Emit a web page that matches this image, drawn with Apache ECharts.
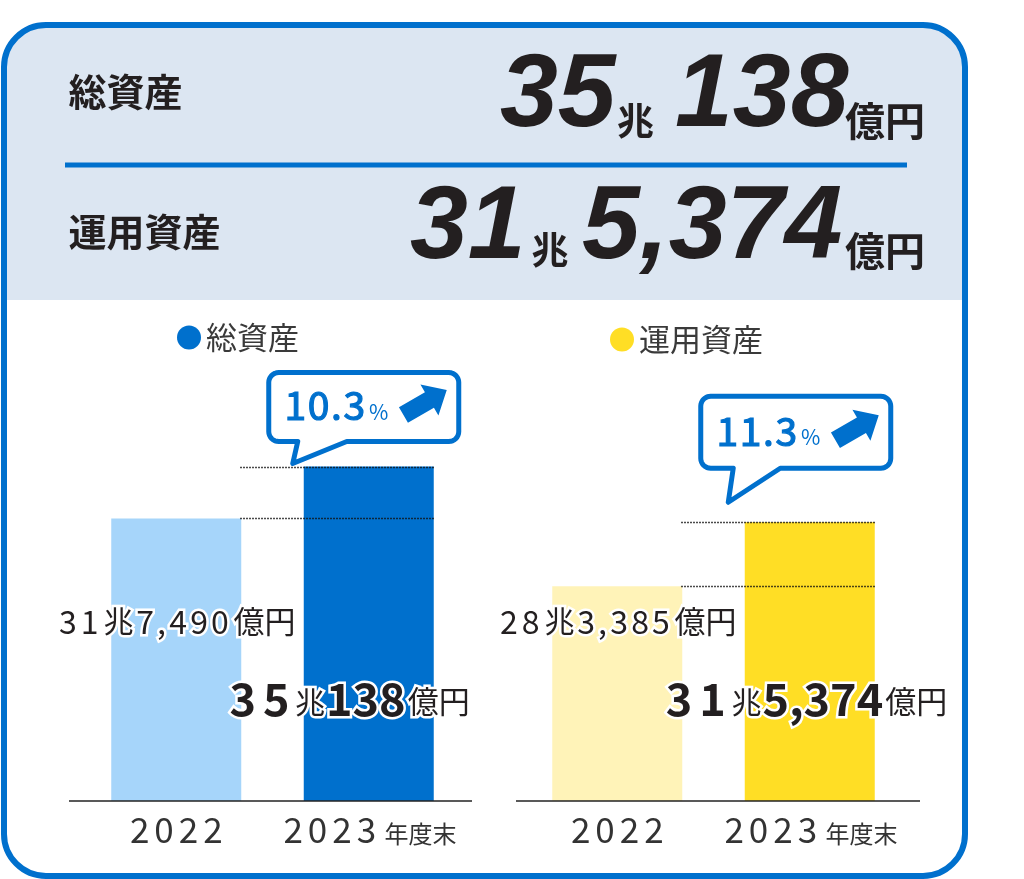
<!DOCTYPE html>
<html><head><meta charset="utf-8">
<script src="https://cdn.jsdelivr.net/npm/echarts@6/dist/echarts.min.js"></script>
<style>html,body{margin:0;padding:0;background:#fff}#c{width:1024px;height:879px}</style>
</head><body><div id="c"></div>
<script>
// ---------- data ----------
const years = ['2022', '2023'];
const yearSuffix = ['', '年度末'];
const totalAssets = [317490, 350138];      // 億円
const operatingAssets = [283385, 315374];  // 億円
const growthRates = [10.3, 11.3];          // %
const seriesNames = ['総資産', '運用資産'];
const headerLabels = ['総資産', '運用資産'];

// ---------- style ----------
const FF = '"Noto Sans CJK JP","Noto Sans",sans-serif';
const NUM_FF = '"Liberation Sans",Arial,sans-serif';
const C = {
  border: '#0070CD', header: '#DCE6F2', ink: '#231F20', text: '#3A3A3A',
  total: ['#A6D5FA', '#0070CD'], operating: ['#FFF3B8', '#FFDE25']
};

function splitOku(v) {
  return { cho: String(Math.floor(v / 10000)), oku: (v % 10000).toLocaleString('en-US') };
}
function valueLabel(v, big) {
  const p = splitOku(v);
  const k = big ? ['T', 'U', 'N', 'Y'] : ['t', 'u', 'n', 'y'];
  const okuPart = big ? `{${k[2]}|${p.oku}}` : p.oku.split('').map(d => `{${k[2]}|${d}}`).join('');
  return p.cho.split('').map(d => `{${k[0]}|${d}}`).join('') +
    `{${k[1]}|兆}` + okuPart + `{${k[3]}|億円}`;
}
const base = { fontFamily: FF, color: C.ink, textBorderColor: '#fff', textBorderWidth: 5, verticalAlign: 'bottom' };
const RICH = {
  t: Object.assign({}, base, { fontSize: 32, lineHeight: 36, padding: [0, 2, 0, 2] }),
  u: Object.assign({}, base, { fontSize: 30, lineHeight: 36, padding: [0, 1, 2, 3] }),
  n: Object.assign({}, base, { fontSize: 32, lineHeight: 36, padding: [0, 1.6, 0, 1.6] }),
  y: Object.assign({}, base, { fontSize: 31, lineHeight: 36, padding: [0, 0, 1, 3] }),
  T: Object.assign({}, base, { fontSize: 45, lineHeight: 46, fontWeight: 'bold', padding: [0, 3.5, 0, 3.5] }),
  U: Object.assign({}, base, { fontSize: 30, lineHeight: 46, padding: [0, 1, 4, 2] }),
  N: Object.assign({}, base, { fontSize: 45, lineHeight: 46, fontWeight: 'bold' }),
  Y: Object.assign({}, base, { fontSize: 31, lineHeight: 46, padding: [0, 0, 4, 2] })
};
const LABEL_DIST = [163, 80];
const charts = [
  { name: seriesNames[0], values: totalAssets, colors: C.total, min: 140000, max: 380000,
    grid: { left: 80, width: 385, top: 419, bottom: 78 }, bigOffset: -21, axisExt: [-11, 7],
    legend: { left: 172, top: 317 },
    bubble: { dx0: -100, dx1: 90, dy0: -94, dy1: -25, tailL: -71, tailR: -22, tipDx: -76, tipDy: -3 } },
  { name: seriesNames[1], values: operatingAssets, colors: C.operating, min: 176000, max: 336000,
    grid: { left: 521, width: 385, top: 481, bottom: 78 }, bigOffset: -5, axisExt: [-5, 14],
    legend: { left: 605, top: 319 },
    bubble: { dx0: -109, dx1: 81, dy0: -126, dy1: -54, tailL: -76.5, tailR: -29.5, tipDx: -81.5, tipDy: -20 } }
];

const option = {
  backgroundColor: '#fff',
  animation: false,
  legend: charts.map(c => ({
    data: [c.name], left: c.legend.left, top: c.legend.top, icon: 'circle', itemWidth: 24, itemHeight: 24,
    selectedMode: false, textStyle: { fontFamily: FF, fontSize: 31, color: C.text }
  })),
  grid: charts.map(c => c.grid),
  xAxis: charts.map((c, i) => ({
    type: 'category', gridIndex: i, data: years,
    axisLine: { show: false }, axisTick: { show: false },
    axisLabel: {
      margin: 8, interval: 0, hideOverlap: false,
      formatter: (v, idx) => v.split('').map(d => `{d|${d}}`).join('') + (yearSuffix[idx] ? `{s|${yearSuffix[idx]}}` : ''),
      rich: {
        d: { fontFamily: FF, fontSize: 35, color: '#333', padding: [0, 2.5, 0, 2.5], verticalAlign: 'bottom', lineHeight: 38 },
        s: { fontFamily: FF, fontSize: 24, color: '#333', padding: [0, 0, 1, 6], verticalAlign: 'bottom', lineHeight: 38 }
      }
    }
  })),
  yAxis: charts.map((c, i) => ({ type: 'value', gridIndex: i, min: c.min, max: c.max, show: false, splitLine: { show: false } })),
  series: charts.map((c, i) => ({
    type: 'bar', name: c.name, xAxisIndex: i, yAxisIndex: i, barWidth: 130,
    itemStyle: { color: c.colors[1] },
    emphasis: { disabled: true },
    data: c.values.map((v, j) => ({
      value: v, itemStyle: { color: c.colors[j] },
      label: {
        show: true, position: 'insideBottom', distance: LABEL_DIST[j], offset: [j === 1 ? c.bigOffset : 0, 0],
        formatter: () => valueLabel(v, j === 1), rich: RICH
      }
    }))
  }))
};

const chart = echarts.init(document.getElementById('c'), null, { renderer: 'canvas' });
chart.setOption(option);

// ---------- decorations (computed from the chart's own scales) ----------
function bubblePoints(x0, y0, x1, y1, r, tailL, tailR, tip) {
  const pts = [];
  const arc = (cx, cy, a0, a1) => { for (let i = 0; i <= 8; i++) { const a = a0 + (a1 - a0) * i / 8; pts.push([cx + r * Math.cos(a), cy + r * Math.sin(a)]); } };
  arc(x0 + r, y0 + r, Math.PI, 1.5 * Math.PI);
  arc(x1 - r, y0 + r, 1.5 * Math.PI, 2 * Math.PI);
  arc(x1 - r, y1 - r, 0, 0.5 * Math.PI);
  pts.push([tailR, y1]); pts.push(tip); pts.push([tailL, y1]);
  arc(x0 + r, y1 - r, 0.5 * Math.PI, Math.PI);
  return pts;
}
function arrowPoints(tipX, tipY, angleDeg, len, headLen, bodyHalf, headHalf) {
  const a = angleDeg * Math.PI / 180, ux = Math.cos(a), uy = Math.sin(a), nx = -uy, ny = ux;
  const local = [[0, -bodyHalf], [len - headLen, -bodyHalf], [len - headLen, -headHalf], [len, 0], [len - headLen, headHalf], [len - headLen, bodyHalf], [0, bodyHalf]];
  const tx = tipX - ux * len, ty = tipY - uy * len;
  return local.map(([s, t]) => [tx + ux * s + nx * t, ty + uy * s + ny * t]);
}

const g = [];
// header background + panel border
g.push({ type: 'rect', z: 0, shape: { x: 6, y: 27, width: 958, height: 273, r: [38, 38, 0, 0] }, style: { fill: C.header } });
g.push({ type: 'rect', z: 100, shape: { x: 4, y: 25, width: 961, height: 851, r: 42 }, style: { fill: 'rgba(0,0,0,0)', stroke: C.border, lineWidth: 6 } });
g.push({ type: 'line', z: 5, shape: { x1: 65, y1: 165, x2: 907, y2: 165 }, style: { stroke: C.border, lineWidth: 5 } });

function hText(text, x, y, size, opts) {
  g.push({ type: 'text', z: 5, style: Object.assign({ text, x, y, fontSize: size, fontFamily: FF, fontWeight: 'bold', fill: C.ink, align: 'left', verticalAlign: 'middle' }, opts || {}) });
}
const headerValues = [totalAssets[1], operatingAssets[1]];
const hp = [splitOku(headerValues[0]), splitOku(headerValues[1])];
hText(headerLabels[0], 68.5, 91.5, 38);
hText(headerLabels[1], 68.5, 231.5, 38);
const bigNum = { fontFamily: NUM_FF, fontStyle: 'italic', fontWeight: 'bold' };
hText(hp[0].cho, 500, 97.5, 104, bigNum);
hText('兆', 617, 121, 37);
hText(hp[0].oku, 675, 97.5, 104, bigNum);
hText('億円', 845, 120.5, 40);
hText(hp[1].cho, 410, 229.5, 104, bigNum);
hText('兆', 531.5, 250, 37);
hText(hp[1].oku, 582, 229.5, 104, bigNum);
hText('億円', 845, 250.5, 40);

charts.forEach((c, i) => {
  const p0 = chart.convertToPixel({ seriesIndex: i }, [0, c.values[0]]);
  const p1 = chart.convertToPixel({ seriesIndex: i }, [1, c.values[1]]);
  const b = chart.convertToPixel({ seriesIndex: i }, [0, c.min]);
  const band = p1[0] - p0[0];
  const half = 65;
  // baseline
  g.push({ type: 'line', z: 10, shape: { x1: p0[0] - band / 2 + c.axisExt[0], y1: b[1], x2: p1[0] + band / 2 + c.axisExt[1], y2: b[1] }, style: { stroke: '#222', lineWidth: 1.3 } });
  // dotted guide lines
  [p1[1], p0[1]].forEach(y => {
    g.push({ type: 'line', z: 10, shape: { x1: p0[0] + half - 1, y1: Math.round(y) + 0.5, x2: p1[0] + half, y2: Math.round(y) + 0.5 }, style: { stroke: '#111', lineWidth: 1.3, lineDash: [1.5, 1.5] } });
  });
  // bubble
  const bb = c.bubble, bx = p1[0], by = p1[1];
  const x0 = bx + bb.dx0, x1 = bx + bb.dx1, y0 = by + bb.dy0, y1 = by + bb.dy1;
  g.push({ type: 'polygon', z: 20, shape: { points: bubblePoints(x0, y0, x1, y1, 10, bx + bb.tailL, bx + bb.tailR, [bx + bb.tipDx, by + bb.tipDy]) },
    style: { fill: '#fff', stroke: C.border, lineWidth: 5, lineJoin: 'round' } });
  const yc = (y0 + y1) / 2;
  const rate = growthRates[i].toFixed(1).split('').map(ch => `{n|${ch}}`).join('');
  g.push({ type: 'text', z: 21, style: {
    text: `${rate}{p|%}`, x: x0 + 15, y: yc - 2, align: 'left', verticalAlign: 'middle',
    rich: {
      n: { fontSize: 39, fontFamily: FF, fill: C.border, stroke: C.border, lineWidth: 1.2, verticalAlign: 'bottom', lineHeight: 40, padding: [0, 0.8, 0, 0.8] },
      p: { fontSize: 21, fontFamily: FF, fill: C.border, verticalAlign: 'bottom', lineHeight: 40, padding: [0, 0, 3, 3] }
    } } });
  g.push({ type: 'polygon', z: 21, shape: { points: arrowPoints(x1 - 12, yc - 17, -30, 50, 20, 9, 18) }, style: { fill: C.border } });
});
chart.setOption({ graphic: { elements: g } });
</script>
</body></html>
